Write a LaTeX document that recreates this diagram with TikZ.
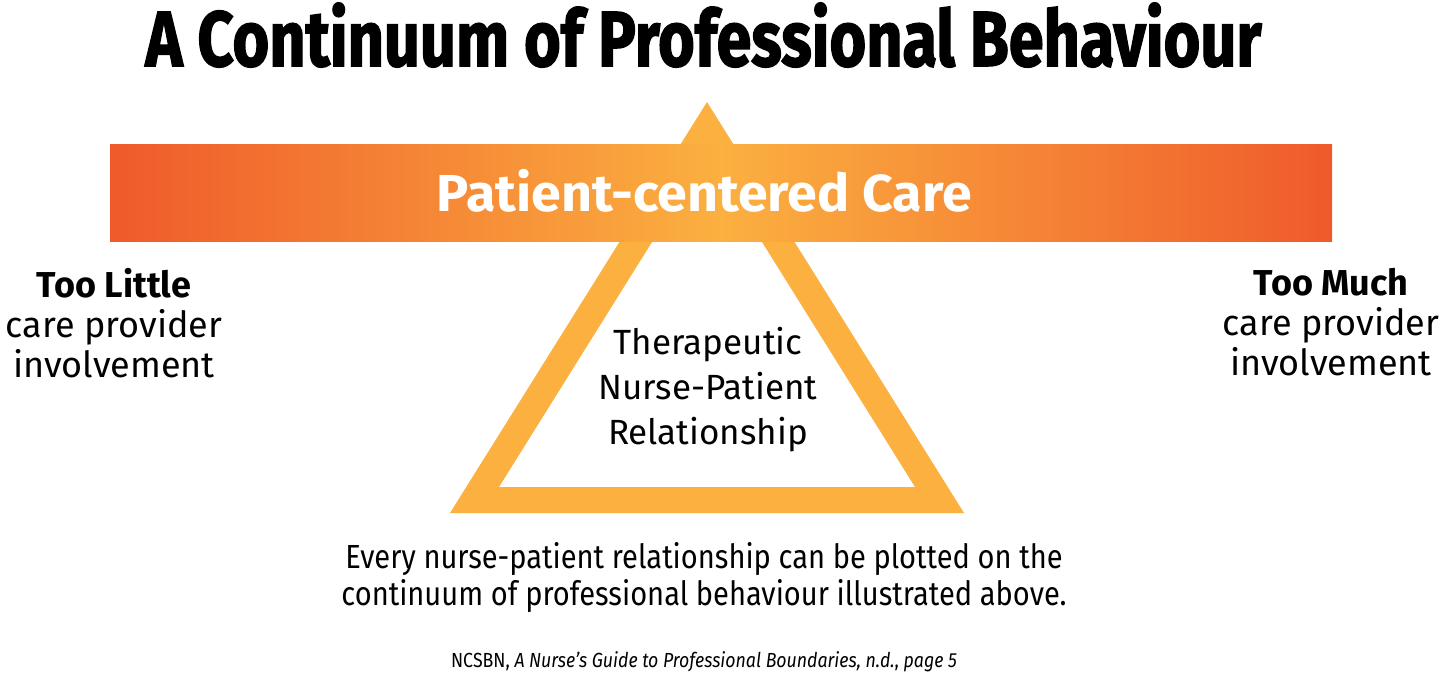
\documentclass[tikz,border=0pt]{standalone}
\usepackage{fontspec}
\setmainfont{Fira Sans}
\newfontfamily\narrowfont{Fira Sans}[FakeStretch=0.87]
\newfontfamily\heavyfont{Fira Sans}[BoldFeatures={FakeBold=2}]
\definecolor{barred}{HTML}{EF5A2B}
\definecolor{barorange}{HTML}{FBB040}
\definecolor{triorange}{HTML}{FBB040}
\begin{document}
\begin{tikzpicture}[x=0.5pt,y=-0.5pt,
  every node/.style={inner sep=0pt},
  sidetext/.style={anchor=north,align=center,font=\fontsize{18}{20}\selectfont},
  tritext/.style={anchor=north,align=center,font=\fontsize{17.5}{22.5}\selectfont},
  notetext/.style={anchor=north,align=center,font=\narrowfont\fontsize{16.7}{18.5}\selectfont}]
\useasboundingbox (0,0) rectangle (1444,689);
% title
\node[anchor=base,font=\heavyfont\bfseries\fontsize{39}{40}\selectfont] (title) at (703.5,66)
  {\resizebox{558pt}{\height}{A Continuum of Professional Behaviour}};
% triangle behind the bar
\fill[triorange,even odd rule] (450,513)--(964,513)--(707,102)--cycle
  (499,487)--(915,487)--(707,154)--cycle;
% bar
\shade[left color=barred,right color=barred,middle color=barorange] (110,145) rectangle (1332,242);
\node[anchor=base,text=white,font=\bfseries\fontsize{26}{28}\selectfont] (care) at (704.5,212)
  {\resizebox{267.5pt}{\height}{Patient-centered Care}};
% inside the triangle
\node[tritext] (rel) at (708,327) {Therapeutic\\Nurse-Patient\\Relationship};
% both ends
\node[sidetext] (little) at (114,268) {{\bfseries Too Little}\\care provider\\involvement};
\node[sidetext] (much) at (1331,268) {{\bfseries Too Much}\\care provider\\involvement};
% note and source
\node[notetext] (note) at (704,542) {Every nurse-patient relationship can be plotted on the\\continuum of professional behaviour illustrated above.};
\node[anchor=base,font=\narrowfont\fontsize{10.2}{12}\selectfont] (cite) at (704,667)
  {NCSBN, \textit{A Nurse’s Guide to Professional Boundaries, n.d.}, \textit{page 5}};
\end{tikzpicture}
\end{document}
